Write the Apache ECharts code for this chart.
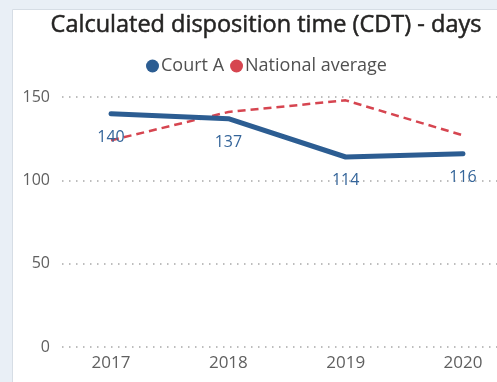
<!DOCTYPE html>
<html>
<head>
<meta charset="utf-8">
<style>
  html, body { margin: 0; padding: 0; background: #e9eff6; }
  #chart { width: 497px; height: 382px; }
</style>
<script src="https://cdn.jsdelivr.net/npm/echarts@6/dist/echarts.min.js"></script>
</head>
<body>
<div id="chart"></div>
<script>
// Calculated disposition time per year, in days
const years = [2017, 2018, 2019, 2020];
const courtA = [140, 137, 114, 116];
const nationalAverage = [124, 141, 148, 127];
const yTicks = [0, 50, 100, 150];

const BLUE = '#2c5d92';
const RED = '#d64550';

const chart = echarts.init(document.getElementById('chart'), null, { renderer: 'canvas' });

const pair = (vals) => years.map((y, i) => [y, vals[i]]);

chart.setOption({
  backgroundColor: 'transparent',
  animation: false,
  graphic: [{
    type: 'rect',
    z: -10,
    shape: { x: 12.5, y: 9.5, width: 500, height: 400 },
    style: { fill: '#ffffff', stroke: '#d6dde5', lineWidth: 1 }
  }],
  title: {
    text: 'Calculated disposition time (CDT) - days',
    left: 261, top: 8, textAlign: 'center',
    textStyle: {
      fontFamily: 'Open Sans', fontSize: 23.5, fontWeight: 'normal', color: '#252423',
      textBorderColor: '#252423', textBorderWidth: 0.5
    }
  },
  legend: {
    left: 141, top: 52,
    icon: 'circle', itemWidth: 13, itemHeight: 13, itemGap: 6,
    textStyle: { fontFamily: 'Open Sans', fontSize: 18, color: '#505050', padding: [0, 0, 0, -3] },
    data: [
      { name: 'Court A', itemStyle: { color: BLUE } },
      { name: 'National average', itemStyle: { color: RED } }
    ]
  },
  grid: { left: 62, right: 0, top: 97, bottom: 35 },
  xAxis: {
    type: 'value',
    min: 2016.582, max: 2020.29,
    axisLine: { show: false }, axisTick: { show: false }, splitLine: { show: false },
    axisLabel: {
      customValues: years,
      formatter: (v) => String(Math.round(v)),
      fontFamily: 'Open Sans', fontSize: 17, color: '#606060', margin: 8
    }
  },
  yAxis: {
    type: 'value', min: 0, max: 150, interval: 50,
    axisLine: { show: false }, axisTick: { show: false },
    axisLabel: {
      fontFamily: 'Open Sans', fontSize: 16, color: '#606060', margin: 12,
      formatter: (v) => yTicks.includes(v) ? String(v) : ''
    },
    splitLine: { lineStyle: { color: '#a8a8a8', width: 1.5, type: [1.5, 5.5] } }
  },
  series: [
    {
      name: 'National average', type: 'line', data: pair(nationalAverage),
      symbol: 'none', color: RED,
      lineStyle: { width: 2.5, type: [8, 5], color: RED }, z: 2
    },
    {
      name: 'Court A', type: 'line', data: pair(courtA),
      symbol: 'circle', symbolSize: 1, showSymbol: true,
      itemStyle: { color: 'rgba(0,0,0,0)', borderWidth: 0 },
      color: BLUE,
      lineStyle: { width: 5, color: BLUE, cap: 'round', join: 'round' }, z: 3,
      label: {
        show: true, position: 'bottom', distance: 15,
        formatter: (p) => String(p.value[1]),
        fontFamily: 'Open Sans', fontSize: 16, color: '#35659a'
      }
    }
  ]
});
</script>
</body>
</html>
